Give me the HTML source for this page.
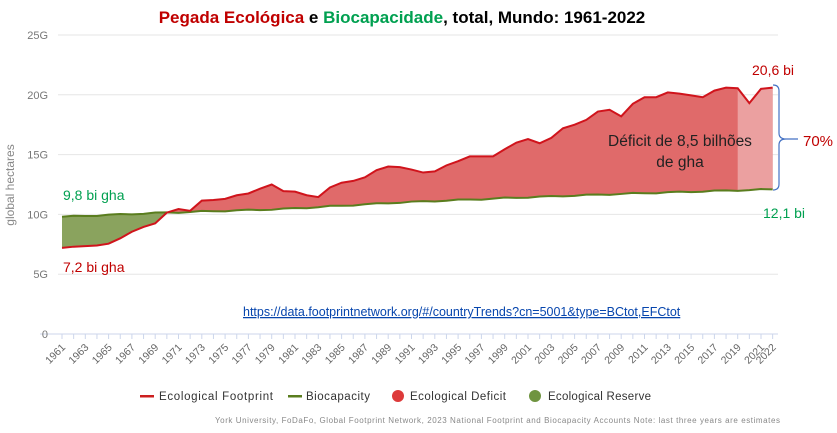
<!DOCTYPE html>
<html><head><meta charset="utf-8"><style>
body{margin:0;background:#fff;width:837px;height:428px;overflow:hidden;font-family:"Liberation Sans",sans-serif}
</style></head><body>
<svg id="s" width="837" height="428" xmlns="http://www.w3.org/2000/svg" font-family="Liberation Sans, sans-serif">
<text x="402" y="23" text-anchor="middle" font-size="17" font-weight="bold"><tspan fill="#c00000">Pegada Ecológica</tspan><tspan fill="#000"> e </tspan><tspan fill="#00a050">Biocapacidade</tspan><tspan fill="#000">, total, Mundo: 1961-2022</tspan></text>
<g id="grid"></g>
<g id="areas"></g>
<g id="lines"></g>
<text x="14" y="185" transform="rotate(-90 14 185)" text-anchor="middle" font-size="12" fill="#888">global hectares</text>
<text x="63" y="200" font-size="14" fill="#00a050">9,8 bi gha</text>
<text x="63" y="272" font-size="14" fill="#c00000">7,2 bi gha</text>
<text x="752" y="75" font-size="14" fill="#c00000">20,6 bi</text>
<text x="763" y="218" font-size="14" fill="#00a050">12,1 bi</text>
<text x="803" y="146" font-size="15" fill="#c00000">70%</text>
<text x="680" y="146" text-anchor="middle" font-size="15.5" fill="#222">Déficit de 8,5 bilhões</text>
<text x="680" y="167" text-anchor="middle" font-size="15.5" fill="#222">de gha</text>
<path d="M773 85 Q779 85 779 91 L779 133 Q779 139 786 139 Q779 139 779 145 L779 184 Q779 190 773 190 M786 139 L798 139" fill="none" stroke="#4472c4" stroke-width="1.2"/>
<text x="243" y="316" font-size="12.5" fill="#0645ad" text-decoration="underline">https://data.footprintnetwork.org/#/countryTrends?cn=5001&amp;type=BCtot,EFCtot</text>
<g font-size="11.5" fill="#333">
<rect x="140" y="395" width="14" height="2.5" fill="#cc1f1f"/><text x="159" y="400" textLength="114">Ecological Footprint</text>
<rect x="288" y="395" width="14" height="2.5" fill="#5a7d1e"/><text x="306" y="400" textLength="64">Biocapacity</text>
<circle cx="398" cy="396" r="6" fill="#dd3a3a"/><text x="410" y="400" textLength="96">Ecological Deficit</text>
<circle cx="535" cy="396" r="6" fill="#6f9440"/><text x="548" y="400" textLength="103">Ecological Reserve</text>
</g>
<text x="780" y="423" text-anchor="end" font-size="8" fill="#888" textLength="565">York University, FoDaFo, Global Footprint Network, 2023 National Footprint and Biocapacity Accounts Note: last three years are estimates</text>
<g id="xt"></g>
</svg>
<script>
var fp=[7.2,7.3,7.35,7.4,7.55,8.0,8.55,8.95,9.25,10.15,10.45,10.3,11.15,11.2,11.3,11.6,11.75,12.15,12.5,11.95,11.9,11.6,11.45,12.25,12.65,12.8,13.1,13.7,14.0,13.95,13.75,13.5,13.6,14.1,14.45,14.85,14.85,14.85,15.45,16.0,16.3,15.95,16.4,17.2,17.5,17.9,18.6,18.75,18.2,19.25,19.8,19.8,20.2,20.1,19.95,19.8,20.35,20.6,20.55,19.3,20.5,20.6];
var bc=[];for(var i=0;i<62;i++){var yr=1961+i,v;
if(yr<=1970)v=9.8+(yr-1961)*0.35/9;else if(yr<=1980)v=10.15+(yr-1970)*0.03;else if(yr<=1990)v=10.45+(yr-1980)*0.055;else if(yr<=2000)v=11.0+(yr-1990)*0.04;else if(yr<=2010)v=11.4+(yr-2000)*0.035;else v=11.75+(yr-2010)*0.029;
bc.push(v+0.05*Math.sin(i*1.7));}
function X(i){return 62+i*11.65}function Y(v){return 334-v*11.96}
var ns="http://www.w3.org/2000/svg";
function el(p,t,a){var e=document.createElementNS(ns,t);for(var k in a)e.setAttribute(k,a[k]);document.getElementById(p).appendChild(e);return e}
[5,10,15,20,25].forEach(function(v){el("grid","line",{x1:58,x2:778,y1:Y(v),y2:Y(v),stroke:"#e6e6e6"});var t=el("grid","text",{x:48,y:Y(v)+4,"text-anchor":"end","font-size":11,fill:"#777"});t.textContent=v+"G"});
el("grid","line",{x1:40,x2:778,y1:334,y2:334,stroke:"#ccd6eb"});
var t0=el("grid","text",{x:48,y:338,"text-anchor":"end","font-size":11,fill:"#777"});t0.textContent="0";
function poly(a,b,i0,i1){var s="";for(var i=i0;i<=i1;i++)s+=X(i)+","+Y(a[i])+" ";for(var i=i1;i>=i0;i--)s+=X(i)+","+Y(b[i])+" ";return s}
el("areas","polygon",{points:poly(fp,bc,0,61),fill:"#e06a6a"});
el("areas","polygon",{points:poly(bc,fp,0,9),fill:"#8aa35e"});
el("areas","polygon",{points:poly(fp,bc,58,61),fill:"#eba0a0"});
function line(a,c){var s="";for(var i=0;i<62;i++)s+=X(i)+","+Y(a[i])+" ";el("lines","polyline",{points:s,fill:"none",stroke:c,"stroke-width":2})}
line(bc,"#5a7d1e");line(fp,"#d0141c");
for(var i=0;i<62;i++){el("xt","line",{x1:X(i),x2:X(i),y1:334,y2:339,stroke:"#ccd6eb"});
if(i%2==0||i==61){var x=X(i)+4,y=348;var t=el("xt","text",{x:x,y:y,"text-anchor":"end","font-size":10.5,fill:"#666",transform:"rotate(-45 "+x+" "+y+")"});t.textContent=1961+i}}
</script>
</body></html>
